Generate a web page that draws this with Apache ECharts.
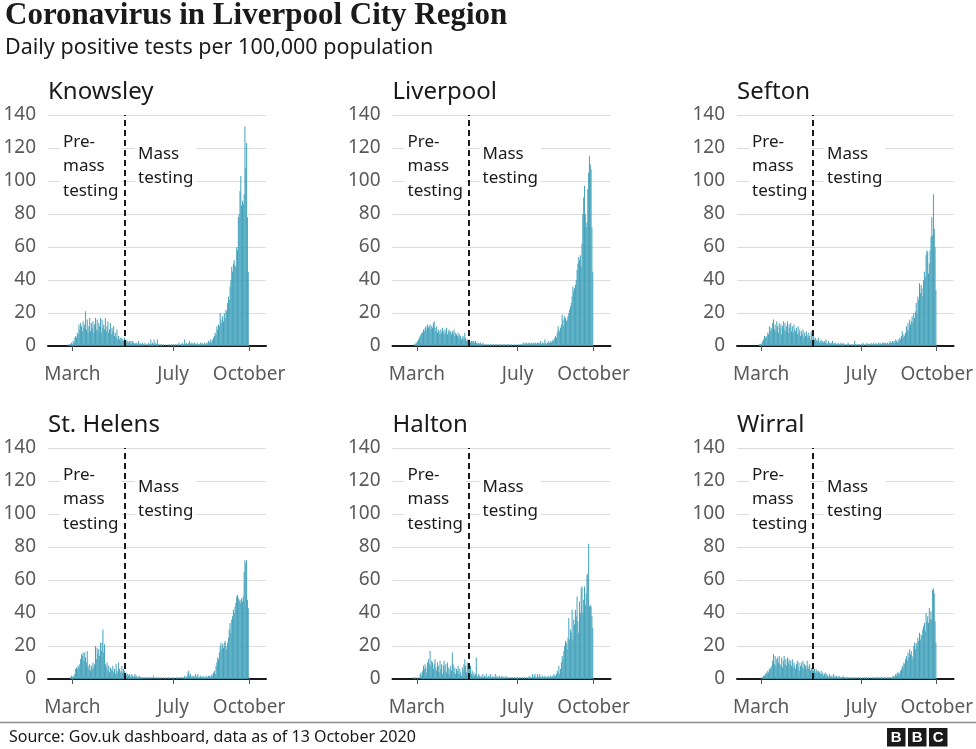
<!DOCTYPE html>
<html><head><meta charset="utf-8">
<script src="https://cdn.jsdelivr.net/npm/echarts@6/dist/echarts.min.js"></script>
<style>html,body{margin:0;padding:0;background:#fff}#c{width:976px;height:749px}</style>
</head><body><div id="c"></div>
<script>
// ---- axis / category definitions ----
const axisStartDate = '2020-02-15';
const axisDayCount = 264;
const dataStartDate = '2020-03-01';
const tickDates = ['2020-03-15', '2020-07-15', '2020-10-15'];
const tickLabels = ['March', 'July', 'October'];
const massTestingStart = '2020-05-17';
const yTicks = [0, 20, 40, 60, 80, 100, 120, 140];

const areaNames = ['Knowsley', 'Liverpool', 'Sefton', 'St. Helens', 'Halton', 'Wirral'];

// ---- daily positive tests per 100,000 (from 1 March to 14 October 2020) ----
const knowsley = [
  0,0,0,0,0,0,0,  0,0,1,0,1,1,2,  1,3,2,5,6,5,8,  7,13,10,14,12,9,15,
  11,13,21,10,16,8,12,  17,9,14,11,15,8,13,  17,10,16,9,14,12,17,  8,16,11,13,10,17,9,
  12,15,8,10,14,7,11,  9,12,6,8,5,10,4,  6,4,5,3,5,4,3,  5,3,4,2,3,2,3,
  2,3,1,3,2,1,2,  1,2,1,3,1,2,1,  1,2,1,1,2,1,0,  1,2,1,1,4,1,2,
  1,4,1,2,1,4,1,  1,0,1,1,0,1,0,  0,1,0,0,1,0,1,  0,1,0,1,1,0,1,
  0,1,1,2,0,1,1,  2,1,1,4,1,2,1,  1,2,3,1,2,1,2,  1,2,1,1,2,1,1,
  1,2,1,2,1,1,2,  1,2,1,2,3,2,4,  2,3,4,5,6,8,7,  12,10,13,12,20,16,14,
  18,15,20,17,22,21,26,  30,28,36,40,48,45,50,  52,49,48,60,58,78,80,  94,103,85,88,86,92,133,
  108,123,78,45
];
const liverpool = [
  0,0,0,0,0,0,0,  0,0,0,0,1,1,2,  2,3,4,5,6,7,8,  8,10,9,11,12,10,13,
  11,12,13,10,12,11,14,  15,11,9,12,8,10,9,  7,10,8,11,9,7,10,  8,11,7,9,10,8,9,
  7,9,8,10,6,8,7,  6,8,5,7,6,4,5,  6,4,8,5,3,4,4,  3,4,2,3,3,2,3,
  2,3,2,1,2,2,1,  2,1,1,2,1,0,1,  1,0,1,1,0,1,1,  0,1,1,0,1,0,1,
  1,0,1,1,0,1,0,  1,1,0,1,0,1,1,  0,1,0,1,0,0,1,  0,1,0,0,1,0,1,
  1,0,1,2,1,2,1,  2,1,2,1,2,1,2,  1,2,1,2,2,1,2,  2,1,2,3,1,2,2,
  1,4,2,1,2,3,2,  2,3,2,3,4,3,5,  6,5,8,12,10,9,11,  13,19,16,12,18,17,15,
  16,18,20,22,24,26,30,  36,33,35,37,40,46,50,  54,52,55,48,62,80,90,  97,80,72,75,95,105,115,
  110,107,72,45
];
const sefton = [
  0,0,0,0,0,0,0,  0,0,0,0,0,1,1,  1,2,3,4,6,5,6,  5,8,7,12,9,11,10,
  14,16,10,13,9,15,12,  8,14,11,13,7,12,15,  10,14,9,12,15,8,13,  11,14,9,12,8,13,10,
  9,11,7,12,8,10,6,  9,7,10,5,8,6,9,  7,5,8,6,4,9,7,  3,6,4,5,3,4,3,
  5,2,3,4,2,3,2,  3,2,4,2,1,3,2,  2,1,2,3,1,2,1,  2,1,1,2,1,1,2,
  1,1,2,1,1,0,1,  1,2,1,1,0,1,1,  1,0,3,1,1,0,1,  1,1,0,1,1,2,1,
  0,1,1,2,1,1,1,  1,2,1,1,2,1,1,  2,1,1,2,1,2,1,  1,2,2,1,2,2,1,
  2,1,2,3,2,2,3,  2,3,2,4,3,2,4,  3,5,4,6,9,5,7,  6,8,12,10,14,9,16,
  13,15,18,14,20,17,21,  26,20,30,28,38,32,37,  35,30,40,45,42,55,58,  57,44,50,58,66,78,67,
  92,71,60,34
];
const stHelens = [
  0,0,0,0,0,0,0,  0,0,0,0,0,1,2,  1,2,1,3,6,7,6,  8,7,9,12,15,14,16,
  11,16,13,10,17,8,6,  9,5,8,6,10,7,9,  20,12,19,15,18,14,22,  17,22,30,16,21,9,7,
  10,5,8,4,7,6,5,  8,4,6,3,9,5,4,  10,6,4,5,8,4,6,  5,3,4,2,3,2,3,
  2,1,3,2,1,2,3,  1,2,1,1,2,1,1,  1,1,0,1,1,0,1,  1,0,1,1,0,1,0,
  2,0,1,0,1,0,1,  0,1,0,1,0,0,1,  0,1,0,0,1,0,1,  0,0,1,0,1,0,0,
  1,0,1,0,1,0,1,  1,1,0,2,1,1,2,  4,5,2,3,1,2,1,  2,1,3,1,2,3,1,
  1,2,1,1,2,1,1,  1,2,1,1,2,2,1,  2,3,2,4,5,3,8,  10,13,12,16,20,22,18,
  21,19,22,23,20,18,22,  25,30,34,28,36,38,42,  40,44,46,50,51,49,47,  48,46,49,47,50,65,72,
  70,72,48,43
];
const halton = [
  0,0,0,0,0,0,0,  0,0,0,1,0,1,0,  0,1,0,0,3,4,2,  5,8,6,9,7,4,10,
  12,9,17,8,11,10,6,  9,12,7,5,10,8,4,  11,6,9,3,8,11,5,  9,4,10,7,3,6,8,
  5,16,9,4,7,3,6,  5,8,3,6,4,2,7,  5,9,12,8,4,10,9,  9,6,8,3,5,2,4,
  2,3,13,2,1,3,2,  1,2,1,3,1,2,1,  3,1,1,2,1,3,1,  1,2,1,1,3,1,2,
  1,1,2,1,1,2,1,  1,1,0,2,1,1,0,  1,0,1,1,1,0,1,  1,0,1,1,0,1,0,
  1,0,1,0,1,1,0,  1,0,1,2,1,1,0,  3,1,2,3,1,1,3,  1,2,3,1,1,2,1,
  1,2,1,1,1,2,1,  1,2,1,2,1,3,2,  2,3,5,4,8,3,6,  10,14,12,17,20,23,22,
  18,25,37,24,30,28,42,  24,36,33,42,38,50,35,  28,47,40,55,56,40,48,  56,45,52,63,64,82,44,
  45,44,38,31
];
const wirral = [
  0,0,0,0,0,0,0,  0,0,0,0,0,0,0,  0,1,1,2,2,3,4,  3,5,4,6,7,6,8,
  11,15,9,14,8,12,13,  10,14,9,8,13,7,11,  14,9,12,8,13,10,12,  9,11,8,12,7,10,8,
  6,9,11,7,10,5,8,  10,7,11,6,9,8,6,  11,8,6,9,5,7,6,  7,5,6,4,6,5,4,
  5,4,3,5,3,4,2,  3,4,2,3,2,1,3,  2,1,2,1,3,1,2,  1,2,1,1,2,1,1,
  1,1,2,1,0,1,1,  1,0,1,0,1,0,1,  0,1,0,1,0,1,0,  1,0,1,0,0,1,0,
  1,0,1,1,0,1,0,  0,1,0,1,1,0,1,  1,0,1,1,0,1,1,  1,1,0,1,1,1,0,
  1,1,1,0,1,1,1,  2,1,2,3,2,4,3,  4,3,5,6,8,7,10,  9,12,14,11,16,13,18,
  15,17,14,12,20,22,18,  22,20,25,23,28,24,27,  26,30,32,34,29,40,35,  38,34,43,36,41,36,54,
  55,52,35,22
];
const areaValues = [knowsley, liverpool, sefton, stHelens, halton, wirral];

// ---- build categories ----
function isoDay(d) { return d.toISOString().slice(0, 10); }
const categories = [];
{
  const d0 = new Date(axisStartDate + 'T00:00:00Z');
  for (let i = 0; i < axisDayCount; i++) {
    categories.push(isoDay(new Date(d0.getTime() + i * 86400000)));
  }
}
const dataOffset = categories.indexOf(dataStartDate);
function padSeries(vals) {
  return categories.map((c, i) => {
    const k = i - dataOffset;
    return (k >= 0 && k < vals.length) ? vals[k] : null;
  });
}

// ---- layout ----
const colLeft = [48, 392.5, 737];
const rowTop = [115, 448];
const gridW = 218, gridH = 231;
const BAR = '#44a2bb';
const SANS = '"Noto Sans", "Open Sans", sans-serif';

const grids = [], xAxes = [], yAxes = [], series = [], graphics = [];
areaNames.forEach((name, i) => {
  const left = colLeft[i % 3], top = rowTop[Math.floor(i / 3)];
  grids.push({ left: left, top: top, width: gridW, height: gridH });
  xAxes.push({
    type: 'category', gridIndex: i, data: categories, boundaryGap: true,
    axisLine: { lineStyle: { color: '#1a1a1a', width: 2 } },
    axisTick: { show: true, alignWithLabel: true, length: 5,
      interval: (idx, val) => tickDates.indexOf(val) >= 0,
      lineStyle: { color: '#555', width: 1 } },
    axisLabel: { interval: (idx, val) => tickDates.indexOf(val) >= 0,
      formatter: v => tickLabels[tickDates.indexOf(v)] || '',
      color: '#5a5a5a', fontSize: 19, fontFamily: SANS, margin: 19 },
    splitLine: { show: false }
  });
  yAxes.push({
    type: 'value', gridIndex: i, min: yTicks[0], max: yTicks[yTicks.length - 1], interval: 20,
    axisLine: { show: false }, axisTick: { show: false },
    axisLabel: { color: '#5a5a5a', fontSize: 19, fontFamily: SANS, margin: 12 },
    splitLine: { lineStyle: { color: '#dcdcdc', width: 1 } }
  });
  series.push({
    type: 'bar', xAxisIndex: i, yAxisIndex: i, data: padSeries(areaValues[i]),
    itemStyle: { color: BAR }, barCategoryGap: '15%', silent: true,
    markLine: {
      silent: true, symbol: 'none', label: { show: false },
      lineStyle: { color: '#1a1a1a', type: [6, 4], width: 2 },
      data: [{ xAxis: massTestingStart }]
    }
  });
  // panel title
  graphics.push({ type: 'text', x: left, y: top - 23, z: 100,
    style: { text: name, font: '24px ' + SANS, fill: '#1a1a1a',
      textVerticalAlign: 'middle', verticalAlign: 'middle' } });
  // annotations
  graphics.push({ type: 'text', x: left + 12, y: top + 12.5, z: 100,
    style: { text: 'Pre-\nmass\ntesting', font: '17px ' + SANS, fill: '#1a1a1a',
      lineHeight: 24.5, backgroundColor: '#fff', padding: [2, 3] } });
  graphics.push({ type: 'text', x: left + 87, y: top + 24.5, z: 100,
    style: { text: 'Mass\ntesting', font: '17px ' + SANS, fill: '#1a1a1a',
      lineHeight: 24.5, backgroundColor: '#fff', padding: [2, 3] } });
});

// headings and footer
graphics.push({ type: 'text', x: 5, y: 16, z: 100,
  style: { text: 'Coronavirus in Liverpool City Region', font: 'bold 31px "Liberation Serif", serif',
    fill: '#1a1a1a', textVerticalAlign: 'middle', verticalAlign: 'middle' } });
graphics.push({ type: 'text', x: 5, y: 48, z: 100,
  style: { text: 'Daily positive tests per 100,000 population', font: '21.5px ' + SANS,
    fill: '#1a1a1a', textVerticalAlign: 'middle', verticalAlign: 'middle' } });
graphics.push({ type: 'line', z: 100, shape: { x1: 0, y1: 722.5, x2: 976, y2: 722.5 },
  style: { stroke: '#8c8c8c', lineWidth: 1.5 } });
graphics.push({ type: 'text', x: 9, y: 737, z: 100,
  style: { text: 'Source: Gov.uk dashboard, data as of 13 October 2020', font: '16px ' + SANS,
    fill: '#1a1a1a', textVerticalAlign: 'middle', verticalAlign: 'middle' } });
['B', 'B', 'C'].forEach((ch, k) => {
  const x0 = 887 + k * 21;
  graphics.push({ type: 'rect', z: 100, shape: { x: x0, y: 728, width: 18.5, height: 18.5 },
    style: { fill: '#1a1a1a' } });
  graphics.push({ type: 'text', z: 101, x: x0 + 9.25, y: 737.5,
    style: { text: ch, font: 'bold 15px "Liberation Sans", sans-serif', fill: '#fff',
      textAlign: 'center', align: 'center', textVerticalAlign: 'middle', verticalAlign: 'middle' } });
});

const chart = echarts.init(document.getElementById('c'), null, { renderer: 'canvas' });
chart.setOption({
  animation: false,
  backgroundColor: '#fff',
  grid: grids, xAxis: xAxes, yAxis: yAxes, series: series,
  graphic: { elements: graphics }
});
</script></body></html>
